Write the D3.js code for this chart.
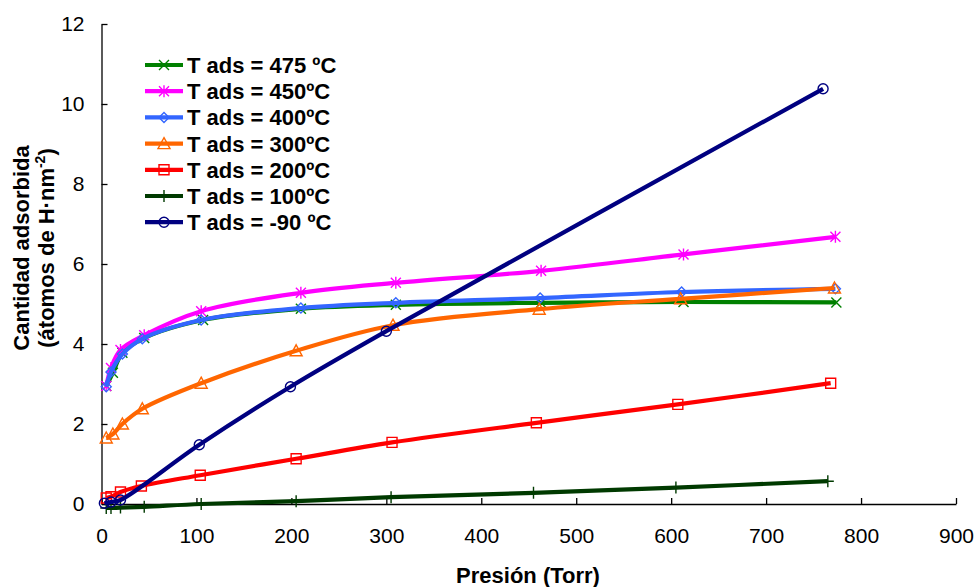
<!DOCTYPE html>
<html>
<head>
<meta charset="utf-8">
<script src="https://cdn.jsdelivr.net/npm/d3@7"></script>
<style>
  body { margin: 0; background: #fff; }
  svg { font-family: "Liberation Sans", Arial, sans-serif; }
</style>
</head>
<body>
<svg id="chart" width="978" height="587"></svg>
<script>
// series labels (legend order = draw order)
const seriesNames = ["T ads = 475 ºC", "T ads = 450ºC", "T ads = 400ºC", "T ads = 300ºC",
                     "T ads = 200ºC", "T ads = 100ºC", "T ads = -90 ºC"];

// pressure (Torr) / amount (H·nm-2)
const p475 = [5, 12, 22, 45, 107, 210, 310, 463, 613, 774];
const v475 = [2.95, 3.28, 3.78, 4.15, 4.6, 4.88, 4.98, 5.03, 5.05, 5.04];

const p450 = [5, 10, 20, 45, 105, 210, 310, 463, 613, 773];
const v450 = [2.95, 3.4, 3.85, 4.22, 4.82, 5.28, 5.53, 5.83, 6.24, 6.68];

const p400 = [5, 10, 22, 43, 105, 210, 310, 462, 611, 773];
const v400 = [2.93, 3.3, 3.75, 4.13, 4.6, 4.9, 5.03, 5.15, 5.3, 5.38];

const p300 = [5, 12, 22, 43, 105, 205, 307, 461, 610, 772];
const v300 = [1.65, 1.75, 2.0, 2.38, 3.02, 3.83, 4.47, 4.87, 5.13, 5.4];

const p200 = [5, 10, 20, 42, 104, 205, 306, 458, 607, 768];
const v200 = [0.15, 0.18, 0.3, 0.45, 0.72, 1.13, 1.54, 2.03, 2.49, 3.02];

const p100 = [5, 10, 20, 45, 105, 205, 305, 455, 605, 765];
const v100 = [-0.1, -0.1, -0.09, -0.07, 0.0, 0.07, 0.17, 0.28, 0.41, 0.57];

const pm90 = [3, 10, 20, 103, 199, 300, 760];
const vm90 = [0.02, 0.05, 0.1, 1.48, 2.93, 4.32, 10.38];

const xTicks = [0, 100, 200, 300, 400, 500, 600, 700, 800, 900];
const yTicks = [0, 2, 4, 6, 8, 10, 12];

const colors = ["#008000", "#ff00ff", "#3366ff", "#ff6600", "#ff0000", "#003a00", "#000080"];
const markers = ["cross", "star", "diamond", "triangle", "square", "plus", "circle"];

const series = [[p475, v475], [p450, v450], [p400, v400], [p300, v300],
                [p200, v200], [p100, v100], [pm90, vm90]].map((d, i) => ({
  name: seriesNames[i],
  color: colors[i],
  marker: markers[i],
  values: d[0].map((p, j) => ({ x: p, y: d[1][j] }))
}));

const svg = d3.select("#chart");

const x = d3.scaleLinear().domain([0, 900]).range([101.5, 956]);
const y = d3.scaleLinear().domain([0, 12]).range([504, 24]);

// axes with inward ticks
svg.append("g")
  .attr("transform", "translate(0,504)")
  .call(d3.axisBottom(x).tickValues(xTicks).tickSizeInner(-6).tickSizeOuter(0).tickPadding(24))
  .call(g => g.selectAll("text").attr("font-size", 21).attr("fill", "#000").attr("font-family", "Liberation Sans, Arial"))
  .call(g => g.selectAll("line,path").attr("stroke", "#000").attr("stroke-width", 1.3));

svg.append("g")
  .attr("transform", "translate(101.5,0)")
  .call(d3.axisLeft(y).tickValues(yTicks).tickSizeInner(-6).tickSizeOuter(0).tickPadding(17))
  .call(g => g.selectAll("text").attr("font-size", 21).attr("fill", "#000").attr("font-family", "Liberation Sans, Arial"))
  .call(g => g.selectAll("line,path").attr("stroke", "#000").attr("stroke-width", 1.3));

// marker drawing
function drawMarker(g, type, color) {
  const s = 5;
  if (type === "cross") {
    g.append("path").attr("d", `M${-s},${-s}L${s},${s}M${-s},${s}L${s},${-s}`);
  } else if (type === "star") {
    g.append("path").attr("d", `M${-s},${-s}L${s},${s}M${-s},${s}L${s},${-s}M0,${-s - 1}L0,${s + 1}`);
  } else if (type === "diamond") {
    g.append("path").attr("d", `M0,${-s}L${s},0L0,${s}L${-s},0Z`);
  } else if (type === "triangle") {
    g.append("path").attr("d", `M0,${-s - 1}L${s + 1},${s}L${-s - 1},${s}Z`);
  } else if (type === "square") {
    g.append("path").attr("d", `M${-s},${-s}H${s}V${s}H${-s}Z`);
  } else if (type === "plus") {
    g.append("path").attr("d", `M0,${-s - 1}L0,${s + 1}M${-s - 1},0L${s + 1},0`);
  } else if (type === "circle") {
    g.append("circle").attr("r", s);
  }
  g.selectAll("path,circle").attr("fill", "none").attr("stroke", color).attr("stroke-width", 1.4);
}

const line = d3.line()
  .x(d => x(d.x))
  .y(d => y(d.y))
  .curve(d3.curveCatmullRom.alpha(0.5));

series.forEach(s => {
  const g = svg.append("g");
  g.append("path")
    .datum(s.values)
    .attr("d", line)
    .attr("fill", "none")
    .attr("stroke", s.color)
    .attr("stroke-width", 4.2);
  s.values.forEach(d => {
    const m = g.append("g").attr("transform", `translate(${x(d.x)},${y(d.y)})`);
    drawMarker(m, s.marker, s.color);
  });
});

// legend
const legend = svg.append("g").attr("transform", "translate(145,65)");
series.forEach((s, i) => {
  const row = legend.append("g").attr("transform", `translate(0,${i * 26.2})`);
  row.append("line")
    .attr("x1", 0).attr("x2", 38)
    .attr("stroke", s.color).attr("stroke-width", 4.2);
  drawMarker(row.append("g").attr("transform", "translate(19,0)"), s.marker, s.color);
  row.append("text")
    .attr("x", 42).attr("dy", "0.36em")
    .attr("font-size", 22).attr("font-weight", "bold")
    .text(s.name);
});

// axis titles
svg.append("text")
  .attr("x", 528).attr("y", 583)
  .attr("text-anchor", "middle")
  .attr("font-size", 22).attr("font-weight", "bold")
  .text("Presión (Torr)");

const yl = svg.append("text")
  .attr("transform", "translate(0,248) rotate(-90)")
  .attr("text-anchor", "middle")
  .attr("font-size", 22).attr("font-weight", "bold");
yl.append("tspan").attr("x", 0).attr("y", 29).text("Cantidad adsorbida");
const l2 = yl.append("tspan").attr("x", 0).attr("y", 54);
l2.append("tspan").text("(átomos de H·nm");
l2.append("tspan").attr("dy", -9).attr("font-size", 14).text("-2");
l2.append("tspan").attr("dy", 9).text(")");
</script>
</body>
</html>
